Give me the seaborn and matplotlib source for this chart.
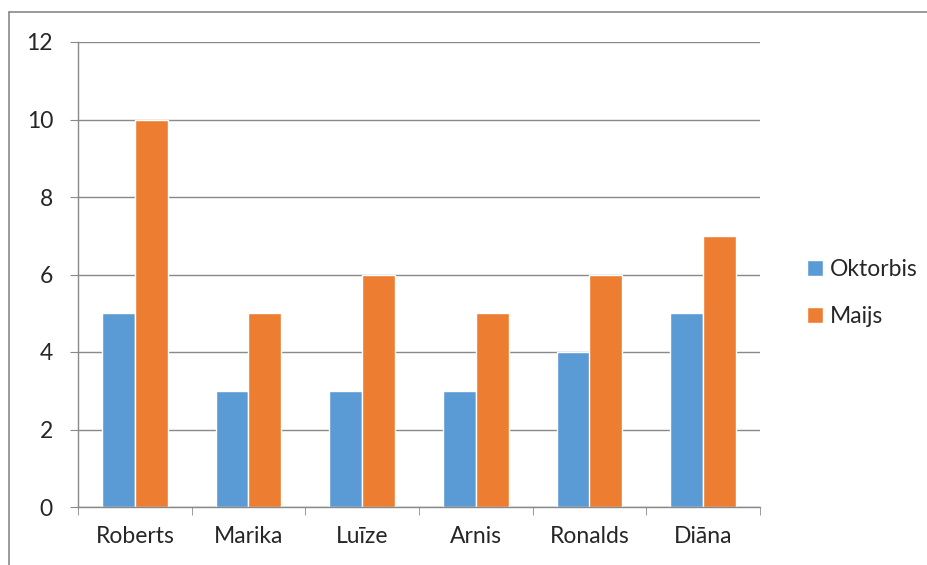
import pandas as pd
import numpy as np
import matplotlib.pyplot as plt
import seaborn as sns
from matplotlib.lines import Line2D

# Dati
skoleni = ['Roberts', 'Marika', 'Luīze', 'Arnis', 'Ronalds', 'Diāna']
oktobris = [5, 3, 3, 3, 4, 5]
maijs = [10, 5, 6, 5, 6, 7]
serijas = ['Oktorbis', 'Maijs']
krasas = ['#5B9BD5', '#ED7D31']

df = pd.DataFrame({
    'vards': skoleni * 2,
    'vertiba': oktobris + maijs,
    'serija': [serijas[0]] * len(skoleni) + [serijas[1]] * len(skoleni),
})

sns.set_style('white')
plt.rcParams['font.family'] = ['Lato', 'DejaVu Sans']

fig = plt.figure(figsize=(9.28, 5.65), dpi=100)
ax = fig.add_axes([78 / 928, 58 / 565, (760 - 78) / 928, (507 - 42) / 565])

sns.barplot(data=df, x='vards', y='vertiba', hue='serija', palette=krasas,
            width=0.58, ax=ax, saturation=1, legend=True)

gray = '#898989'
ax.set_ylim(0, 12)
ax.set_xlim(-0.5, len(skoleni) - 0.5)
ax.set_yticks(np.arange(0, 13, 2))
ax.yaxis.grid(True, color=gray, linewidth=1)
ax.set_axisbelow(True)
ax.set_xlabel('')
ax.set_ylabel('')

for s in ['top', 'right']:
    ax.spines[s].set_visible(False)
for s in ['left', 'bottom']:
    ax.spines[s].set_color(gray)
    ax.spines[s].set_linewidth(1)

ax.tick_params(axis='y', length=6, color=gray, direction='out', pad=12,
               labelsize=16.5, left=True)
ax.tick_params(axis='x', which='major', length=0, pad=14, labelsize=16.5)
ax.set_xticks(np.arange(-0.5, len(skoleni), 1), minor=True)
ax.tick_params(axis='x', which='minor', length=6, color=gray, direction='out', bottom=True)

# Legenda
ax.legend(loc='center left', bbox_to_anchor=(798 / 928, 1 - 293 / 565),
          bbox_transform=fig.transFigure, frameon=False, fontsize=16.5,
          handlelength=0.7, handleheight=0.7, handletextpad=0.3,
          labelspacing=1.15, borderaxespad=0)

# Diagrammas ārējais rāmis
fig.add_artist(Line2D([9 / 928, 1.0], [1 - 12 / 565, 1 - 12 / 565],
                      transform=fig.transFigure, color=gray, linewidth=1.2))
fig.add_artist(Line2D([9 / 928, 9 / 928], [0.0, 1 - 12 / 565],
                      transform=fig.transFigure, color=gray, linewidth=1.2))

fig.savefig('out.png', dpi=100, facecolor='white')
